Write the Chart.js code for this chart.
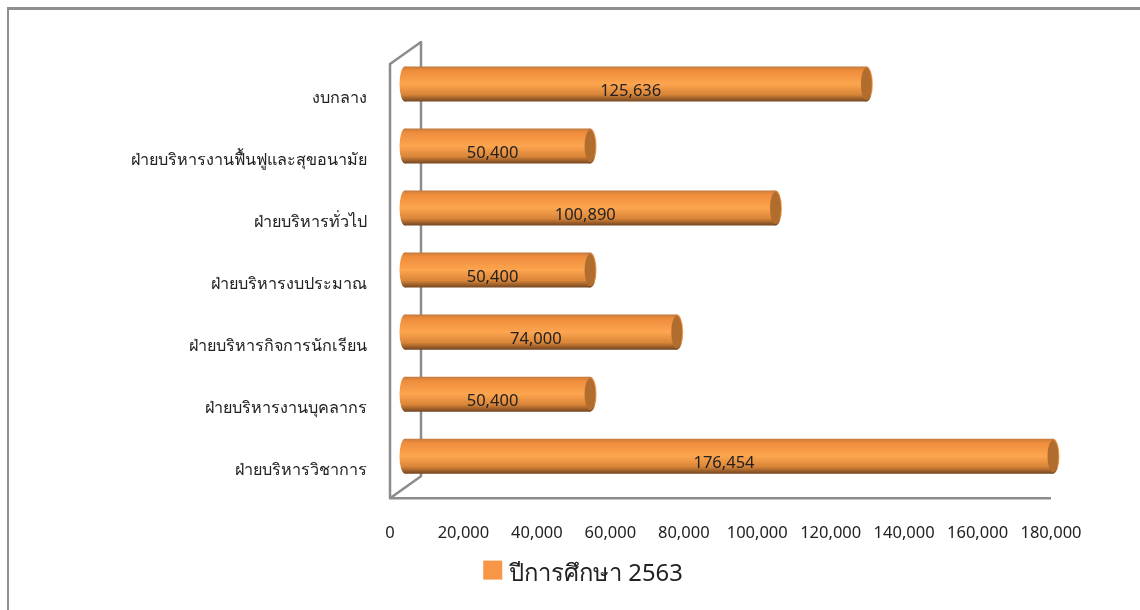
<!DOCTYPE html>
<html>
<head>
<meta charset="utf-8">
<script src="https://cdn.jsdelivr.net/npm/chart.js@4"></script>
<style>
  html, body { margin: 0; padding: 0; background: #fff; }
  #wrap { position: relative; width: 1140px; height: 610px; overflow: hidden; }
  #frame { position: absolute; left: 7px; top: 7px; width: 1200px; height: 700px; border: solid #8f8f8f; border-width: 3px 0 0 2px; box-sizing: border-box; }
  canvas { position: absolute; left: 0; top: 0; }
</style>
</head>
<body>
<div id="wrap">
  <div id="frame"></div>
  <canvas id="chart" width="1140" height="610"></canvas>
</div>
<script>
// ข้อมูล
const categories = [
  "งบกลาง",
  "ฝ่ายบริหารงานฟื้นฟูและสุขอนามัย",
  "ฝ่ายบริหารทั่วไป",
  "ฝ่ายบริหารงบประมาณ",
  "ฝ่ายบริหารกิจการนักเรียน",
  "ฝ่ายบริหารงานบุคลากร",
  "ฝ่ายบริหารวิชาการ",
];
const seriesName = "ปีการศึกษา 2563";
const values = [125636, 50400, 100890, 50400, 74000, 50400, 176454];
const xMax = 180000;
const xStep = 20000;

const FONT = "'Noto Sans', 'Open Sans', 'DejaVu Sans', sans-serif";
const WALL = "#8c8c8c";
const LEGEND_COLOR = "#f79646";

// bars sit half way into the fake 3d depth
const DEPTH = { x: 31, y: -22 };
const BAR_SHIFT = { x: 15, y: -11 };

function barGradient(c, top, bottom) {
  const g = c.createLinearGradient(0, top, 0, bottom);
  g.addColorStop(0, "#c07a3e");
  g.addColorStop(0.1, "#ee8b3b");
  g.addColorStop(0.5, "#fda54f");
  g.addColorStop(0.8, "#d98538");
  g.addColorStop(1, "#734520");
  return g;
}

const fake3d = {
  id: "fake3d",
  beforeDatasetsDraw(chart) {
    const c = chart.ctx;
    const a = chart.chartArea;
    c.save();
    c.strokeStyle = WALL;
    c.lineWidth = 2.5;
    c.lineJoin = "round";
    c.beginPath();
    c.moveTo(a.right, a.bottom);
    c.lineTo(a.left, a.bottom);
    c.lineTo(a.left, a.top);
    c.lineTo(a.left + DEPTH.x, a.top + DEPTH.y);
    c.lineTo(a.left + DEPTH.x, a.bottom + DEPTH.y);
    c.lineTo(a.left, a.bottom);
    c.stroke();
    c.restore();
    c.save();
    c.translate(BAR_SHIFT.x, BAR_SHIFT.y);
    // rounded back end of each cylinder
    chart.getDatasetMeta(0).data.forEach((bar) => {
      const h = bar.height / 2;
      c.fillStyle = barGradient(c, bar.y - h, bar.y + h);
      c.beginPath();
      c.ellipse(bar.base, bar.y, 5.5, h, 0, 0, Math.PI * 2);
      c.fill();
    });
  },
  afterDatasetsDraw(chart) {
    const c = chart.ctx;
    chart.getDatasetMeta(0).data.forEach((bar, i) => {
      const h = bar.height / 2;
      // cylinder end cap
      c.fillStyle = barGradient(c, bar.y - h, bar.y + h);
      c.beginPath();
      c.ellipse(bar.x, bar.y, 6.5, h, 0, 0, Math.PI * 2);
      c.fill();
      c.fillStyle = "#b06d2d";
      c.beginPath();
      c.ellipse(bar.x, bar.y, 5.5, h - 1.5, 0, 0, Math.PI * 2);
      c.fill();
      // value label
      c.fillStyle = "#222";
      c.font = "16.5px " + FONT;
      c.textAlign = "center";
      c.textBaseline = "middle";
      c.fillText(values[i].toLocaleString("en-US"), (bar.x + bar.base) / 2 - 5, bar.y + 7);
    });
    c.restore();
  },
  afterDraw(chart) {
    // legend key sits higher and wider than the library would put it
    const hit = chart.legend.legendHitBoxes[0];
    chart.ctx.fillStyle = LEGEND_COLOR;
    chart.ctx.fillRect(hit.left, hit.top + (hit.height - 19) / 2 - 4, 19, 19);
  },
};

new Chart(document.getElementById("chart"), {
  type: "bar",
  data: {
    labels: categories,
    datasets: [
      {
        label: seriesName,
        data: values,
        clip: false,
        categoryPercentage: 1,
        barPercentage: 0.565,
        backgroundColor(ctx) {
          const area = ctx.chart.chartArea;
          if (!area || ctx.dataIndex === undefined) return LEGEND_COLOR;
          const y = ctx.chart.scales.y.getPixelForValue(ctx.dataIndex);
          return barGradient(ctx.chart.ctx, y - 17.5, y + 17.5);
        },
      },
    ],
  },
  options: {
    indexAxis: "y",
    responsive: false,
    animation: false,
    layout: { padding: { left: 115, right: 89, top: 64, bottom: 14 } },
    plugins: {
      tooltip: { enabled: false },
      legend: {
        position: "bottom",
        labels: {
          boxWidth: 14,
          boxHeight: 19,
          padding: 8,
          color: "#222",
          font: { family: FONT, size: 23.8 },
          generateLabels() {
            return [{ text: seriesName, fillStyle: "rgba(0,0,0,0)", strokeStyle: "rgba(0,0,0,0)", lineWidth: 0, fontColor: "#222" }];
          },
        },
      },
    },
    scales: {
      x: {
        type: "linear",
        min: 0,
        max: xMax,
        grid: { display: false },
        border: { display: false },
        afterFit(scale) { scale.height = 56; },
        ticks: {
          stepSize: xStep,
          padding: 17,
          maxRotation: 0,
          autoSkip: false,
          color: "#222",
          font: { family: FONT, size: 16.5 },
          callback: (v) => v.toLocaleString("en-US"),
        },
      },
      y: {
        grid: { display: false },
        border: { display: false },
        afterFit(scale) { scale.width = 275; },
        ticks: {
          padding: 15,
          labelOffset: 3,
          autoSkip: false,
          color: "#222",
          font: { family: FONT, size: 16.2 },
        },
      },
    },
  },
  plugins: [fake3d],
});
</script>
</body>
</html>
